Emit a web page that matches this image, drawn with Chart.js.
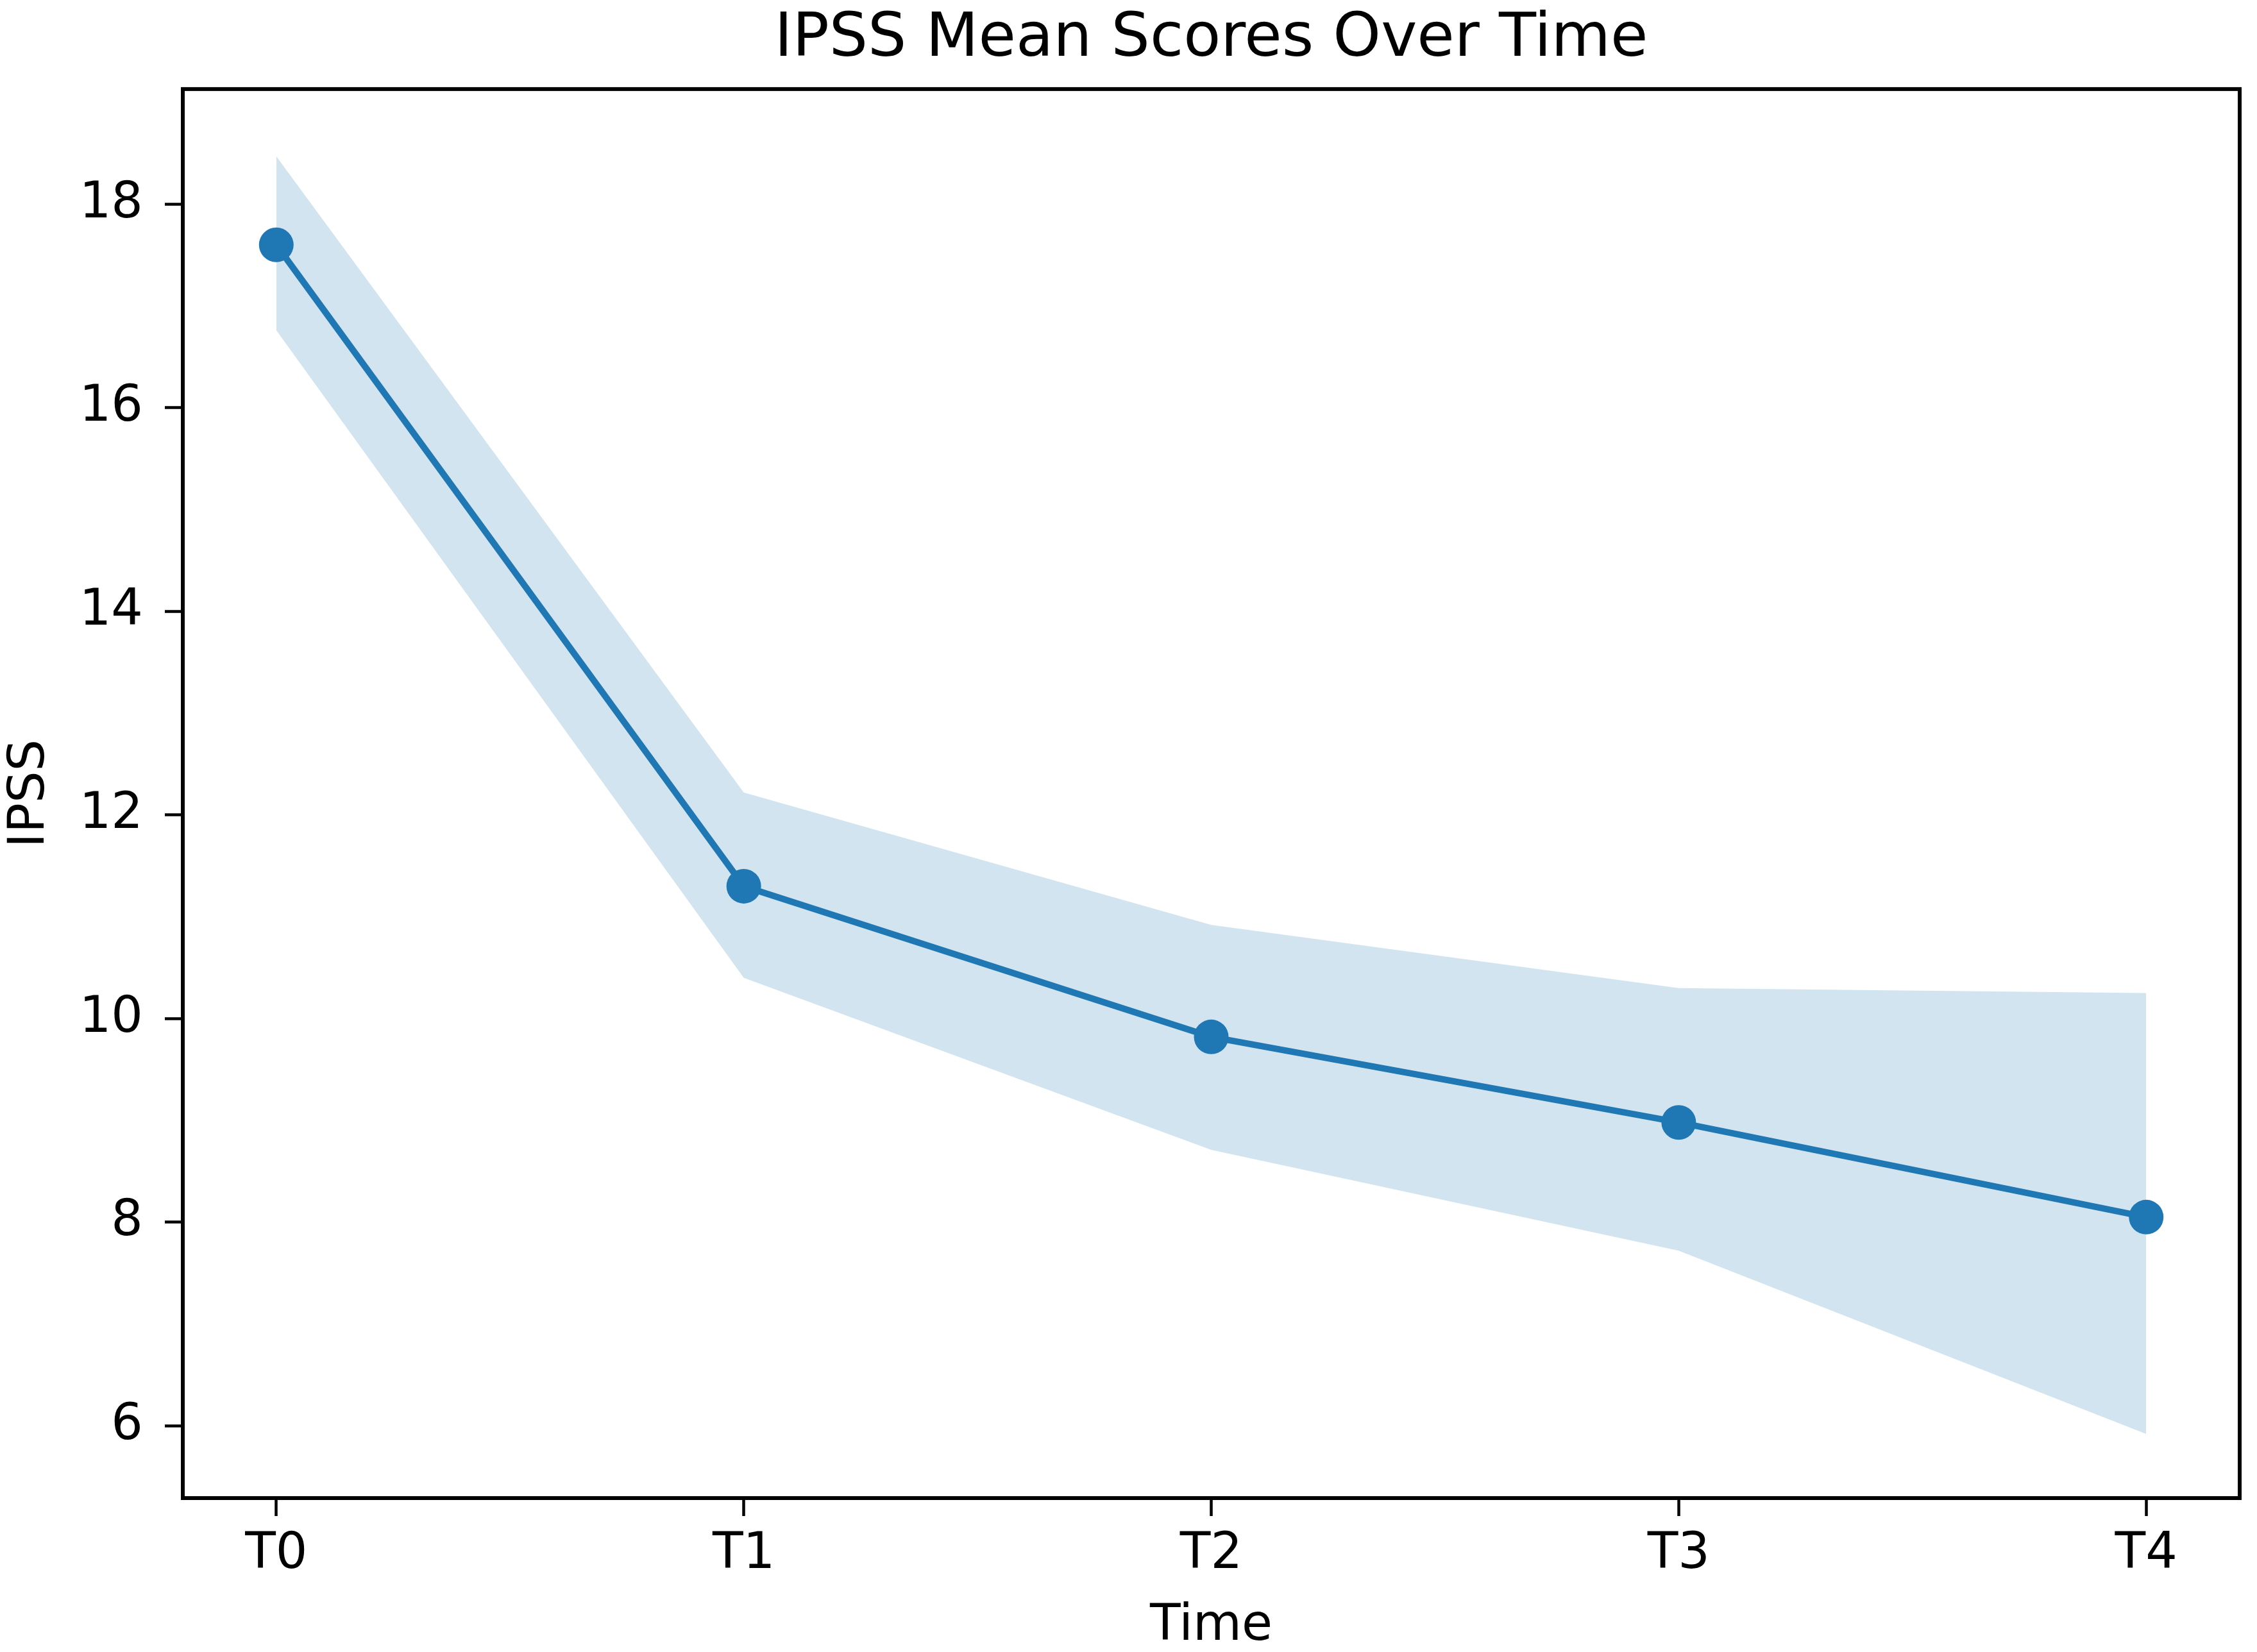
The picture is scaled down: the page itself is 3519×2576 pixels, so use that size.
<!DOCTYPE html>
<html>
<head>
<meta charset="utf-8">
<script src="https://cdn.jsdelivr.net/npm/chart.js@4.4.1/dist/chart.umd.min.js"></script>
<style>
  html, body { margin: 0; padding: 0; background: #ffffff; }
  canvas { display: block; }
</style>
</head>
<body>
<canvas id="c" width="3519" height="2576"></canvas>
<script>
// ---- data ----
const categories = ['T0', 'T1', 'T2', 'T3', 'T4'];
const meanScores = [17.6, 11.3, 9.82, 8.98, 8.05];
const upperCI = [18.47, 12.22, 10.92, 10.3, 10.25];
const lowerCI = [16.76, 10.4, 8.71, 7.72, 5.92];
const yTicks = [6, 8, 10, 12, 14, 16, 18];

const toPoints = arr => arr.map((v, i) => ({ x: i, y: v }));

const BLUE = '#1f77b4';
const FONT = "'DejaVu Sans', sans-serif";

const framePlugin = {
  id: 'frame',
  afterDraw(chart) {
    const { ctx, chartArea: a } = chart;
    ctx.save();
    ctx.strokeStyle = '#000000';
    ctx.lineWidth = 6;
    ctx.strokeRect(a.left, a.top, a.right - a.left, a.bottom - a.top);
    ctx.restore();
  }
};

new Chart(document.getElementById('c'), {
  type: 'line',
  data: {
    datasets: [
      {
        label: 'Mean',
        data: toPoints(meanScores),
        borderColor: BLUE,
        borderWidth: 10,
        pointRadius: 27,
        pointBackgroundColor: BLUE,
        pointBorderWidth: 0,
        pointHoverRadius: 27,
        fill: false,
        tension: 0
      },
      {
        label: 'Upper',
        data: toPoints(upperCI),
        borderWidth: 0,
        borderColor: 'rgba(0,0,0,0)',
        pointRadius: 0,
        backgroundColor: 'rgba(31,119,180,0.2)',
        fill: '+1',
        tension: 0
      },
      {
        label: 'Lower',
        data: toPoints(lowerCI),
        borderWidth: 0,
        borderColor: 'rgba(0,0,0,0)',
        pointRadius: 0,
        fill: false,
        tension: 0
      }
    ]
  },
  options: {
    responsive: false,
    animation: false,
    devicePixelRatio: 1,
    layout: { padding: { left: 0, right: 22, top: 0, bottom: 0 } },
    plugins: {
      legend: { display: false },
      tooltip: { enabled: false },
      title: {
        display: true,
        text: 'IPSS Mean Scores Over Time',
        fullSize: false,
        color: '#000000',
        font: { family: FONT, size: 95, weight: 'normal', lineHeight: 1.125 },
        padding: { top: 9, bottom: 23 }
      }
    },
    scales: {
      x: {
        type: 'linear',
        min: -0.2,
        max: 4.2,
        afterBuildTicks: s => { s.ticks = categories.map((c, i) => ({ value: i })); },
        afterFit: s => { s.height = 240; },
        border: { display: false },
        grid: {
          display: true,
          drawOnChartArea: false,
          drawTicks: true,
          tickLength: 28,
          tickWidth: 4.5,
          tickColor: '#000000'
        },
        ticks: {
          color: '#000000',
          padding: 14,
          maxRotation: 0,
          font: { family: FONT, size: 78 },
          callback: v => categories[v]
        },
        title: {
          display: true,
          text: 'Time',
          color: '#000000',
          font: { family: FONT, size: 78, lineHeight: 1.0 },
          padding: { top: 0, bottom: 0 }
        }
      },
      y: {
        type: 'linear',
        min: 5.29,
        max: 19.13,
        afterBuildTicks: s => { s.ticks = yTicks.map(v => ({ value: v })); },
        afterFit: s => { s.width = 285; },
        border: { display: false },
        grid: {
          display: true,
          drawOnChartArea: false,
          drawTicks: true,
          tickLength: 28,
          tickWidth: 4.5,
          tickColor: '#000000'
        },
        ticks: {
          color: '#000000',
          padding: 34,
          font: { family: FONT, size: 78 },
          callback: v => String(v)
        },
        title: {
          display: true,
          text: 'IPSS',
          color: '#000000',
          font: { family: FONT, size: 78, lineHeight: 1.2 },
          padding: { top: 1, bottom: 0 }
        }
      }
    }
  },
  plugins: [framePlugin]
});
</script>
</body>
</html>
